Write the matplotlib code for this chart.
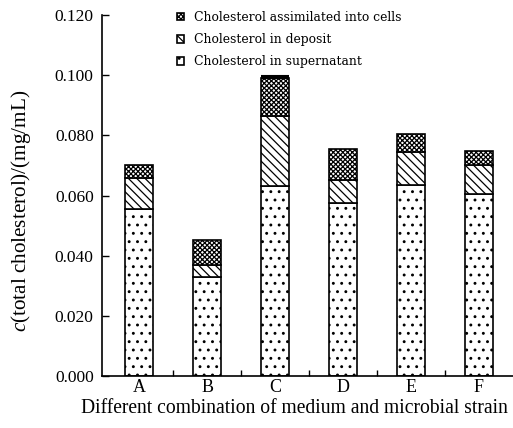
import matplotlib
matplotlib.use("Agg")
import matplotlib.pyplot as plt
import numpy as np

categories = ["A", "B", "C", "D", "E", "F"]
supernatant = [0.0556, 0.0328, 0.0633, 0.0576, 0.0634, 0.0606]
deposit = [0.0103, 0.0040, 0.0231, 0.0074, 0.0112, 0.0095]
assimilated = [0.0042, 0.0085, 0.0126, 0.0106, 0.0057, 0.0047]
err_up = [0, 0, 0.0006, 0, 0, 0]
yticks = [0.0, 0.02, 0.04, 0.06, 0.08, 0.10, 0.12]

plt.rcParams['font.family'] = ['Liberation Serif', 'DejaVu Serif']
plt.rcParams['mathtext.fontset'] = 'custom'
plt.rcParams['mathtext.it'] = 'Liberation Serif:italic'
plt.rcParams['mathtext.rm'] = 'Liberation Serif'
plt.rcParams['hatch.linewidth'] = 0.9

fig = plt.figure(figsize=(5.13, 4.28), dpi=100)
ax = fig.add_axes([102/513, 1-376/428, 1-102/513, (376-15)/428])

x = np.arange(len(categories))
w = 0.4
sup = np.array(supernatant)
dep = np.array(deposit)
ass = np.array(assimilated)

b1 = ax.bar(x, sup, w, color='white', edgecolor='black', hatch='..', linewidth=1.2,
            label='Cholesterol in supernatant')
b2 = ax.bar(x, dep, w, bottom=sup, color='white', edgecolor='black', hatch='\\\\\\\\',
            linewidth=1.2, label='Cholesterol in deposit')
b3 = ax.bar(x, ass, w, bottom=sup + dep, color='white', edgecolor='black', hatch='xxxxxxx',
            linewidth=1.2, label='Cholesterol assimilated into cells')
tot = sup + dep + ass
err = np.array(err_up)
ax.errorbar(x, tot, yerr=[np.zeros_like(err), err], fmt='none', ecolor='black',
            capsize=10, elinewidth=1.2, capthick=1.5, errorevery=(2, 6))

ax.set_xlim(-0.545, 5.5)
ax.set_ylim(0, 0.12)
ax.set_yticks(yticks)
ax.set_yticklabels([f"{v:.3f}" for v in yticks], fontsize=12.5)
ax.set_xticks(x)
ax.set_xticklabels(categories, fontsize=13)
ax.set_xticks(x[:-1] + 0.5, minor=True)
ax.tick_params(axis='x', which='major', length=0, pad=2)
ax.tick_params(axis='x', which='minor', direction='in', length=4, width=1)
ax.tick_params(axis='y', direction='in', length=5, width=1, pad=6)
for s in ['top', 'right']:
    ax.spines[s].set_visible(False)
for s in ['left', 'bottom']:
    ax.spines[s].set_linewidth(1.2)

ax.set_xlabel("Different combination of medium and microbial strain", fontsize=14.1)
ax.xaxis.set_label_coords((294 - 102) / 411, -(399 - 376) / 361)
ax.set_ylabel(r"$c$(total cholesterol)/(mg/mL)", fontsize=15.2)
ax.yaxis.set_label_coords(-(102 - 33) / 411, (376 - 211) / 361)

leg = ax.legend(handles=[b3, b2, b1], loc='upper left', bbox_to_anchor=(0.17, 1.025),
                frameon=False, prop={'family': 'DejaVu Serif', 'size': 8.9},
                handlelength=0.6, handleheight=0.55,
                handletextpad=0.8, labelspacing=0.75, borderaxespad=0)

fig.savefig("out.png", dpi=100)
